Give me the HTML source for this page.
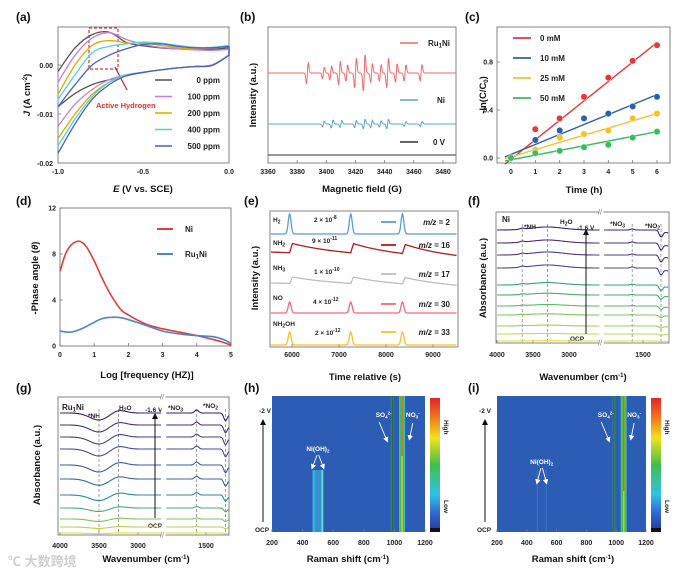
<!DOCTYPE html>
<html><head><meta charset="utf-8">
<style>
html,body{margin:0;padding:0;background:#fff;}
svg{display:block;font-family:"Liberation Sans","Noto Sans CJK SC",sans-serif;}
.t{font-size:7px;font-weight:bold;fill:#222;}
.at{font-size:9.5px;font-weight:bold;fill:#111;}
.pl{font-size:12px;font-weight:bold;fill:#111;}
.lg{font-size:8px;font-weight:bold;fill:#222;}
.sm{font-size:6.5px;font-weight:bold;fill:#222;}
.wt{font-size:6.5px;font-weight:bold;fill:#fff;}
.box{fill:none;stroke:#777;stroke-width:0.9;}
</style></head>
<body>
<svg id="fig" width="679" height="573" viewBox="0 0 679 573">
<defs>
<linearGradient id="cbar" x1="0" y1="0" x2="0" y2="1">
<stop offset="0" stop-color="#e0242a"/><stop offset="0.15" stop-color="#f07a1e"/><stop offset="0.3" stop-color="#f1e21b"/><stop offset="0.5" stop-color="#3ec04a"/><stop offset="0.72" stop-color="#2ec3e8"/><stop offset="0.85" stop-color="#2f6fd0"/><stop offset="0.97" stop-color="#2a3fa0"/><stop offset="0.97" stop-color="#111"/><stop offset="1" stop-color="#111"/>
</linearGradient>
<marker id="ah" markerWidth="6" markerHeight="6" refX="3" refY="3" orient="auto"><path d="M0,0 L6,3 L0,6 z" fill="#111"/></marker>
<marker id="aw" markerWidth="6" markerHeight="6" refX="3" refY="3" orient="auto"><path d="M0,0 L6,3 L0,6 z" fill="#fff"/></marker>
</defs>

<text class="pl" x="16" y="21">(a)</text>
<text class="pl" x="240" y="21">(b)</text>
<text class="pl" x="465" y="21">(c)</text>
<text class="pl" x="16" y="205">(d)</text>
<text class="pl" x="244" y="205">(e)</text>
<text class="pl" x="468" y="205">(f)</text>
<text class="pl" x="16" y="392">(g)</text>
<text class="pl" x="244" y="392">(h)</text>
<text class="pl" x="468" y="392">(i)</text>

<g id="pa">
<rect class="box" x="58" y="27" width="171" height="136"/>
<text class="t" x="53" y="68" text-anchor="end">0.00</text>
<text class="t" x="53" y="117" text-anchor="end">-0.01</text>
<text class="t" x="53" y="166" text-anchor="end">-0.02</text>
<text class="t" x="58" y="174" text-anchor="middle">-1.0</text>
<text class="t" x="143" y="174" text-anchor="middle">-0.5</text>
<text class="t" x="229" y="174" text-anchor="middle">0.0</text>
<text class="at" x="143" y="192" text-anchor="middle"><tspan font-style="italic">E</tspan> (V vs. SCE)</text>
<text class="at" transform="translate(30,95) rotate(-90)" text-anchor="middle"><tspan font-style="italic">J</tspan> (A cm<tspan dy="-3" font-size="6">-2</tspan><tspan dy="3">)</tspan></text>
<rect x="89" y="28" width="29" height="41" fill="none" stroke="#e03030" stroke-width="1.2" stroke-dasharray="3,2"/>
<line x1="115" y1="67" x2="127" y2="90" stroke="#c02020" stroke-width="1.2"/>
<text x="96" y="108" font-size="7.5" font-weight="bold" fill="#e03030">Active Hydrogen</text>
</g>

<g id="pb">
<rect class="box" x="268" y="27" width="188" height="136"/>
<text class="at" transform="translate(256,95) rotate(-90)" text-anchor="middle">Intensity (a.u.)</text>
<text class="at" x="362" y="192" text-anchor="middle">Magnetic field (G)</text>
</g>

<g id="pc">
<rect class="box" x="497" y="27" width="173" height="136"/>
<text class="at" transform="translate(486,95) rotate(-90)" text-anchor="middle">-ln(C/C<tspan font-size="6" dy="2">0</tspan><tspan dy="-2">)</tspan></text>
<text class="at" x="584" y="193" text-anchor="middle">Time (h)</text>
</g>

<g id="pd">
<rect class="box" x="60" y="208" width="171" height="138"/>
<text class="at" transform="translate(38,278) rotate(-90)" text-anchor="middle">-Phase angle (<tspan font-style="italic">θ</tspan>)</text>
<text class="at" x="147" y="378" text-anchor="middle">Log [frequency (HZ)]</text>
</g>

<g id="pe">
<rect class="box" x="270" y="211" width="188" height="136"/>
<text class="at" transform="translate(258,278) rotate(-90)" text-anchor="middle">Intensity (a.u.)</text>
<text class="at" x="365" y="380" text-anchor="middle">Time relative (s)</text>
</g>

<g id="pf">
<rect class="box" x="496" y="212" width="173" height="131"/>
<text class="at" transform="translate(486,278) rotate(-90)" text-anchor="middle">Absorbance (a.u.)</text>
<text class="at" x="583" y="380" text-anchor="middle">Wavenumber (cm<tspan dy="-3" font-size="6">-1</tspan><tspan dy="3">)</tspan></text>
<text class="lg" x="502" y="222" font-size="9">Ni</text>
<text class="sm" x="524" y="229">*NH</text>
<text class="sm" x="560" y="224">H<tspan font-size="5" dy="1.5">2</tspan><tspan dy="-1.5">O</tspan></text>
<text class="sm" x="577" y="230">-1.6 V</text>
<text class="sm" x="610" y="226">*NO<tspan font-size="5" dy="1.5">3</tspan></text>
<text class="sm" x="645" y="228">*NO<tspan font-size="5" dy="1.5">2</tspan></text>
<text class="sm" x="577" y="341" text-anchor="middle">OCP</text>
</g>

<g id="pg">
<rect class="box" x="58" y="397" width="171" height="138"/>
<text class="at" transform="translate(40,465) rotate(-90)" text-anchor="middle">Absorbance (a.u.)</text>
<text class="at" x="146" y="562" text-anchor="middle">Wavenumber (cm<tspan dy="-3" font-size="6">-1</tspan><tspan dy="3">)</tspan></text>
<text class="lg" x="62" y="410" font-size="9">Ru<tspan font-size="6" dy="1.5">1</tspan><tspan dy="-1.5">Ni</tspan></text>
<text class="sm" x="88" y="418">*NH</text>
<text class="sm" x="119" y="410">H<tspan font-size="5" dy="1.5">2</tspan><tspan dy="-1.5">O</tspan></text>
<text class="sm" x="145" y="412">-1.6 V</text>
<text class="sm" x="168" y="410">*NO<tspan font-size="5" dy="1.5">3</tspan></text>
<text class="sm" x="203" y="408">*NO<tspan font-size="5" dy="1.5">2</tspan></text>
<text class="sm" x="155" y="528" text-anchor="middle">OCP</text>
</g>

<g id="ph">
<text class="at" x="348" y="562" text-anchor="middle">Raman shift (cm<tspan dy="-3" font-size="6">-1</tspan><tspan dy="3">)</tspan></text>
<text class="sm" x="265" y="413" text-anchor="middle">-2 V</text>
<line x1="263" y1="522" x2="263" y2="422" stroke="#111" stroke-width="1" marker-end="url(#ah)"/>
<text class="sm" x="262" y="532" text-anchor="middle">OCP</text>
</g>

<g id="pi">
<text class="at" x="573" y="562" text-anchor="middle">Raman shift (cm<tspan dy="-3" font-size="6">-1</tspan><tspan dy="3">)</tspan></text>
<text class="sm" x="485" y="413" text-anchor="middle">-2 V</text>
<line x1="485" y1="522" x2="485" y2="422" stroke="#111" stroke-width="1" marker-end="url(#ah)"/>
<text class="sm" x="484" y="532" text-anchor="middle">OCP</text>
</g>

<text x="8" y="566" font-size="13" fill="#cfcfcf" font-weight="bold" font-family="'Liberation Sans','Noto Sans CJK SC',sans-serif">℃ 大数跨境</text>
</svg>

<script>
const cvX = [-1.0,-0.9,-0.8,-0.7,-0.6,-0.5,-0.4,-0.3,-0.2,-0.1,0.0];
const cvLabels = ['0 ppm','100 ppm','200 ppm','400 ppm','500 ppm'];
const cvUpper0 = [-1.3,3.5,6.2,6.7,4.6,3.9,3.5,3.3,3.2,3.2,3.5];
const cvLower0 = [-8.5,-5.8,-4.0,-3.0,-2.2,-1.5,-1.0,-0.6,-0.3,0.0,2.0];
const cvUpper1 = [-3.5,2.0,5.5,6.6,5.2,4.2,3.6,3.3,3.1,3.0,3.2];
const cvLower1 = [-12.5,-8.0,-5.0,-3.0,-2.0,-1.5,-1.0,-0.6,-0.3,0.0,2.0];
const cvUpper2 = [-6.0,0.0,4.0,5.0,4.5,4.5,4.0,3.5,3.3,3.5,3.8];
const cvLower2 = [-15.0,-10.0,-6.0,-3.5,-2.2,-1.5,-1.0,-0.6,-0.3,-0.1,2.0];
const cvUpper3 = [-7.0,-2.0,2.5,3.8,4.3,4.7,4.5,4.0,3.6,3.6,4.0];
const cvLower3 = [-16.5,-11.0,-6.5,-3.5,-2.0,-1.5,-1.0,-0.6,-0.3,-0.1,2.0];
const cvUpper4 = [-8.5,-4.0,0.0,2.0,3.3,4.2,4.3,3.8,3.5,3.5,3.8];
const cvLower4 = [-18.0,-12.0,-7.0,-4.0,-2.2,-1.5,-1.0,-0.6,-0.3,-0.1,2.0];
const cvYTicks = [0.00,-0.01,-0.02];

const eprXTicks = [3360,3380,3400,3420,3440,3460,3480];
const eprNames = ['Ru1Ni','Ni','0 V'];
const eprRuPos = [3387,3398,3403,3409,3414,3420,3426,3431,3437,3442,3448,3454,3465];
const eprRuAmp = [18,10,12,20,14,26,32,16,14,26,16,14,14];
const eprNiPos = [3398,3404,3410,3420,3426,3431,3437,3442,3454,3465];
const eprNiAmp = [5,7,6,6,8,6,5,8,4,4];
const eprBase = [73,124,155];

const kinTime = [0,1,2,3,4,5,6];
const kinLabels = ['0 mM','10 mM','25 mM','50 mM'];
const kin0 = [0.00,0.24,0.33,0.51,0.67,0.81,0.94];
const kin10 = [0.00,0.15,0.23,0.33,0.37,0.43,0.51];
const kin25 = [0.00,0.07,0.17,0.20,0.23,0.33,0.37];
const kin50 = [0.00,0.04,0.06,0.09,0.11,0.17,0.22];
const kinSlope = [0.162,0.083,0.060,0.039];
const kinIntercept = [-0.01,0.03,0.01,-0.015];
const kinYTicks = [0.0,0.4,0.8];

const bodeNiX = [0,0.15,0.3,0.5,0.65,0.8,1.0,1.2,1.4,1.6,1.8,2.0,2.3,2.6,3.0,3.5,4.0,4.5,4.8,5.0];
const bodeNiY = [6.5,7.9,8.7,9.1,9.0,8.5,7.4,6.1,4.9,3.9,3.1,2.7,2.2,1.8,1.5,1.2,0.9,0.55,0.3,0.05];
const bodeRuX = [0,0.3,0.6,0.9,1.2,1.5,1.8,2.1,2.5,3.0,3.5,4.0,4.5,4.8,5.0];
const bodeRuY = [1.3,1.2,1.45,1.9,2.35,2.5,2.45,2.2,1.8,1.3,1.05,0.9,0.8,0.55,0.2];
const bodeYTicks = [0,4,8,12];
const bodeXTicks = [0,1,2,3,4,5];

const msXTicks = [6000,7000,8000,9000];
const msPulses = [5950,7250,8350];
const msSpecies = ['H2','NH2','NH3','NO','NH2OH'];
const msScale = ['2 × 10-8','9 × 10-11','1 × 10-10','4 × 10-12','2 × 10-12'];
const msMz = [2,16,17,30,33];
const msBase = [234,252,283,313,345];
const msPeakH = [20,10,7,11,13];
const msDecay = [0,12,8,0,0];

const irColorsF = ['#3e2470','#4a2f80','#4d3a8c','#4a4898','#38a07c','#46ac72','#5fb868','#80c45c','#a6cf4e','#c9d943','#e6df3a'];
const irOffsetF = [230,243,255,268,285,295,306,315,326,334,341];
const irAmpF = [1,1,1,1,0.8,0.6,0.5,0.4,0.3,0.2,0.1];
const irFeatCF = [3300,3650,1650,1250];
const irFeatAF = [-3,-1,-1,6];
const irFeatWF = [220,30,25,25];

const irColorsG = ['#3e1f6a','#47307a','#4a3d88','#474c94','#3e5c98','#336b98','#2a8c90','#48ab76','#7ec45c','#b5d54a','#e5df38'];
const irOffsetG = [413,425,437,449,465,479,495,508,519,527,533];
const irAmpG = [1,1,1,1,1,0.9,0.8,0.5,0.35,0.2,0.1];
const irFeatCG = [3500,3250,1620,1250];
const irFeatAG = [7,-3,-3,7];
const irFeatWG = [120,90,25,22];

const ramanXTicks = [200,400,600,800,1000,1200];

const svg = document.getElementById('fig');
const NS = 'http://www.w3.org/2000/svg';
function lin(d0,d1,r0,r1){return v=>r0+(v-d0)*(r1-r0)/(d1-d0);}
function mk(tag,parent){const e=document.createElementNS(NS,tag);(parent||svg).appendChild(e);return e;}
function smooth(pts){let d='M'+pts[0][0].toFixed(1)+','+pts[0][1].toFixed(1);
 for(let i=0;i<pts.length-1;i++){const p0=pts[i-1]||pts[i],p1=pts[i],p2=pts[i+1],p3=pts[i+2]||p2;
 d+=' C'+(p1[0]+(p2[0]-p0[0])/6).toFixed(1)+','+(p1[1]+(p2[1]-p0[1])/6).toFixed(1)+' '+(p2[0]-(p3[0]-p1[0])/6).toFixed(1)+','+(p2[1]-(p3[1]-p1[1])/6).toFixed(1)+' '+p2[0].toFixed(1)+','+p2[1].toFixed(1);}
 return d;}
function txt(parent,x,y,s,cls,anchor){const t=mk('text',parent);t.setAttribute('x',x);t.setAttribute('y',y);t.setAttribute('class',cls);if(anchor)t.setAttribute('text-anchor',anchor);t.textContent=s;return t;}
function tick(parent,x1,y1,x2,y2){const l=mk('line',parent);l.setAttribute('x1',x1);l.setAttribute('y1',y1);l.setAttribute('x2',x2);l.setAttribute('y2',y2);l.setAttribute('stroke','#777');l.setAttribute('stroke-width','0.8');return l;}

{const g=document.getElementById('pa');
 const X=lin(-1,0,58,229), Y=lin(0,-0.02,65,163);
 const cols=['#555555','#c47fd8','#e0a800','#55d0d8','#4a5fc9'];
 const ups=[cvUpper0,cvUpper1,cvUpper2,cvUpper3,cvUpper4], lows=[cvLower0,cvLower1,cvLower2,cvLower3,cvLower4];
 for(let k=0;k<5;k++){
  const pu=cvX.map((x,i)=>[X(x),Y(ups[k][i]/1000)]);
  const pl=cvX.map((x,i)=>[X(x),Y(lows[k][i]/1000)]);
  const p=mk('path',g);p.setAttribute('d',smooth(pu)+' '+smooth(pl.slice().reverse()).replace('M','L'));
  p.setAttribute('fill','none');p.setAttribute('stroke',cols[k]);p.setAttribute('stroke-width','1.3');
  
  
  const ly=80+k*16.5;
  const l=mk('line',g);l.setAttribute('x1',155);l.setAttribute('x2',172);l.setAttribute('y1',ly);l.setAttribute('y2',ly);l.setAttribute('stroke',cols[k]);l.setAttribute('stroke-width','1.6');
  
  
  const t=txt(g,220,ly+3,cvLabels[k],'lg','end');
  
  
 }
 cvYTicks.forEach(v=>{tick(g,58,Y(v),61,Y(v));});
}

{const g=document.getElementById('pb');
 const X=lin(3360,3480,268,443);
 eprXTicks.forEach(v=>{const t=txt(g,X(v),174,String(v),'t','middle');
  
  tick(g,X(v),163,X(v),160);});
 const cols=['#ee6b6b','#5aa3dc','#333333'];
 const posA=[eprRuPos,eprNiPos,[]], ampA=[eprRuAmp,eprNiAmp,[]];
 for(let k=0;k<3;k++){
  const samples=[];
  for(let f=3360;f<=3489;f+=0.4){let y=eprBase[k];
   posA[k].forEach((p,i)=>{const u=(f-p)/0.6;y+=-ampA[k][i]*u*Math.exp(-u*u/2);});
   samples.push([X(f),y]);}
  const p=mk('path',g);p.setAttribute('d','M'+samples.map(s=>s[0].toFixed(1)+','+s[1].toFixed(1)).join(' L'));p.setAttribute('fill','none');p.setAttribute('stroke',cols[k]);p.setAttribute('stroke-width','1');
  
  
  const ly=[43,100,142][k];
  const l=mk('line',g);l.setAttribute('x1',400);l.setAttribute('x2',418);l.setAttribute('y1',ly);l.setAttribute('y2',ly);l.setAttribute('stroke',cols[k]);l.setAttribute('stroke-width','1.5');
  
  
 }
 const t1=txt(g,450,46,'','lg','end');t1.innerHTML='Ru<tspan font-size="6" dy="1.5">1</tspan><tspan dy="-1.5">Ni</tspan>';
 
 
 const t2=txt(g,445,103,'Ni','lg','end');
 
 
 const t3=txt(g,445,145,'0 V','lg','end');
 
 
}

{const g=document.getElementById('pc');
 const X=lin(0,6,511,657), Y=lin(0,0.8,158,62);
 const cols=['#e8363a','#2a62a8','#f5c12b','#3dba5d'];
 const sets=[kin0,kin10,kin25,kin50];
 kinTime.forEach(v=>{const t=txt(g,X(v),174,String(v),'t','middle');
  
  tick(g,X(v),163,X(v),160);});
 kinYTicks.forEach(v=>{const t=txt(g,493,Y(v)+2.5,v.toFixed(1),'t','end');
  
  tick(g,497,Y(v),500,Y(v));});
 for(let k=0;k<4;k++){
  const x0=-0.25, x1=6;
  const l=mk('line',g);l.setAttribute('x1',X(x0));l.setAttribute('x2',X(x1));
  l.setAttribute('y1',Y(kinIntercept[k]+kinSlope[k]*x0));l.setAttribute('y2',Y(kinIntercept[k]+kinSlope[k]*x1));
  l.setAttribute('stroke',cols[k]);l.setAttribute('stroke-width','1.4');
  
  
  kinTime.forEach((t,i)=>{const c=mk('circle',g);c.setAttribute('cx',X(t));c.setAttribute('cy',Y(sets[k][i]));c.setAttribute('r','3.2');c.setAttribute('fill',cols[k]);c.setAttribute('stroke','#fff');c.setAttribute('stroke-width','0.4');
   
   });
  const ly=38+k*20;
  const s=mk('line',g);s.setAttribute('x1',513);s.setAttribute('x2',531);s.setAttribute('y1',ly);s.setAttribute('y2',ly);s.setAttribute('stroke',cols[k]);s.setAttribute('stroke-width','1.8');
  
  
  const t=txt(g,540,ly+3,kinLabels[k],'lg');
  
  
 }
}

{const g=document.getElementById('pd');
 const X=lin(0,5,60,231), Y=lin(0,12,346,208);
 bodeXTicks.forEach(v=>{const t=txt(g,X(v),357,String(v),'t','middle');
  
  tick(g,X(v),346,X(v),343);});
 bodeYTicks.forEach(v=>{const t=txt(g,56,Y(v)+2.5,String(v),'t','end');
  
  tick(g,60,Y(v),63,Y(v));});
 const sets=[[bodeNiX,bodeNiY,'#e83a3a','ni'],[bodeRuX,bodeRuY,'#4a86c8','ru1ni']];
 sets.forEach((s,k)=>{const p=mk('path',g);p.setAttribute('d',smooth(s[0].map((x,i)=>[X(x),Y(s[1][i])])));
  p.setAttribute('fill','none');p.setAttribute('stroke',s[2]);p.setAttribute('stroke-width','1.6');
  
  
  const ly=[229,254][k];
  const l=mk('line',g);l.setAttribute('x1',157);l.setAttribute('x2',173);l.setAttribute('y1',ly);l.setAttribute('y2',ly);l.setAttribute('stroke',s[2]);l.setAttribute('stroke-width','2');
  
  });
 const a=txt(g,185,232,'Ni','lg');a.setAttribute('font-size','9');
 
 
 const b=txt(g,185,257,'','lg');b.setAttribute('font-size','9');b.innerHTML='Ru<tspan font-size="6" dy="1.5">1</tspan><tspan dy="-1.5">Ni</tspan>';
 
 
}

{const g=document.getElementById('pe');
 const X=lin(6000,9000,292,433);
 const cols=['#5b9bd5','#b01e1e','#bdbdbd','#ee6b7b','#f2c12e'];
 msXTicks.forEach(v=>{const t=txt(g,X(v),357,String(v),'t','middle');
  
  tick(g,X(v),347,X(v),344);});
 for(let k=0;k<5;k++){
  const pts=[];
  for(let tt=5550;tt<=9500;tt+=10){let y=msBase[k];
   msPulses.forEach(p=>{
    if(msDecay[k]===0){const u=(tt-p)/30;y-=msPeakH[k]*Math.exp(-u*u/2);}
    else{if(tt>=p){const dt=tt-p;y-=msPeakH[k]*Math.min(1,dt/60)*Math.exp(-dt/900);}}
   });
   if(msDecay[k]>0) y+=msDecay[k]*(tt-5550)/3950*0.6;
   pts.push([X(tt),y]);}
  const p=mk('path',g);p.setAttribute('d','M'+pts.map(s=>s[0].toFixed(1)+','+s[1].toFixed(1)).join(' L'));
  p.setAttribute('fill','none');p.setAttribute('stroke',cols[k]);p.setAttribute('stroke-width','1.3');
  
  
  const ly=[222,245,274,304,332][k];
  const l=mk('line',g);l.setAttribute('x1',381);l.setAttribute('x2',396);l.setAttribute('y1',ly);l.setAttribute('y2',ly);l.setAttribute('stroke',cols[k]);l.setAttribute('stroke-width','1.8');
  
  
  const m=txt(g,450,ly+3,'','lg','end');m.innerHTML='<tspan font-style="italic">m/z</tspan> = '+msMz[k];
  
  
  const sp=msScale[k].split('-');
  const sc=txt(g,[314,312,314,313,315][k],[222,243,274,304,335][k],'','sm');sc.innerHTML=sp[0]+'<tspan dy="-3" font-size="5">-'+sp[1]+'</tspan>';
  
  
 }
 const labs=['H<tspan font-size="5" dy="1.5">2</tspan>','NH<tspan font-size="5" dy="1.5">2</tspan>','NH<tspan font-size="5" dy="1.5">3</tspan>','NO','NH<tspan font-size="5" dy="1.5">2</tspan><tspan dy="-1.5">OH</tspan>'];
 [222,245,270,300,326].forEach((y,k)=>{const t=txt(g,273,y,'','sm');t.innerHTML=labs[k];
  
  });
}

function irPanel(id,cfg){
 const g=document.getElementById(id);
 const XL=w=>cfg.l0+(4000-w)*cfg.k, XR=w=>cfg.r0+(1500-w)*cfg.k;
 cfg.ticksL.forEach(v=>{const t=txt(g,XL(v),cfg.ty,String(v),'t','middle');
  
  tick(g,XL(v),cfg.bot,XL(v),cfg.bot-3);});
 const t=txt(g,XR(1500),cfg.ty,'1500','t','middle');
 
 
 tick(g,XR(1500),cfg.bot,XR(1500),cfg.bot-3);
 cfg.fc.forEach(c=>{const x=c>2000?XL(c):XR(c);const l=mk('line',g);l.setAttribute('x1',x);l.setAttribute('x2',x);l.setAttribute('y1',cfg.top+12);l.setAttribute('y2',cfg.bot);l.setAttribute('stroke','#888');l.setAttribute('stroke-dasharray','3,2');l.setAttribute('stroke-width','0.8');
  
  });
 cfg.off.forEach((o,i)=>{
  [[4000,cfg.lEnd,XL],[cfg.rStart,cfg.rEnd,XR]].forEach(seg=>{
   const pts=[];
   for(let w=seg[0];w>=seg[1];w-=8){let y=o;
    cfg.fc.forEach((c,j)=>{const u=(w-c)/cfg.fw[j];y+=cfg.amp[i]*cfg.fa[j]*Math.exp(-u*u/2);});
    if(seg[2]===XR && w<1300) y+=cfg.amp[i]*cfg.tail*(1300-w)/100;
    pts.push([seg[2](w),y]);}
   const p=mk('path',g);p.setAttribute('d','M'+pts.map(s=>s[0].toFixed(1)+','+s[1].toFixed(1)).join(' L'));
   p.setAttribute('fill','none');p.setAttribute('stroke',cfg.cols[i]);p.setAttribute('stroke-width','1.1');
   
   
  });
 });
 const bx=cfg.brk;
 const w=mk('rect',g);w.setAttribute('x',bx-1.5);w.setAttribute('y',cfg.top-3);w.setAttribute('width',4);w.setAttribute('height',cfg.bot-cfg.top+6);w.setAttribute('fill','#fff');
 
 
 [cfg.top,cfg.bot].forEach(y=>{const s=mk('text',g);s.setAttribute('x',bx-3);s.setAttribute('y',y+2.5);s.setAttribute('font-size','7');s.setAttribute('fill','#777');s.textContent='//';
  
  });
 const ar=mk('line',g);ar.setAttribute('x1',cfg.ax);ar.setAttribute('x2',cfg.ax);ar.setAttribute('y1',cfg.ay1);ar.setAttribute('y2',cfg.ay0);ar.setAttribute('stroke','#111');ar.setAttribute('stroke-width','1');ar.setAttribute('marker-end','url(#ah)');
 
 
}
irPanel('pf',{l0:497,r0:643,k:0.072,lEnd:2570,rStart:2040,rEnd:1150,brk:601,top:212,bot:343,ty:357,ticksL:[4000,3500,3000],
 off:irOffsetF,amp:irAmpF,fc:irFeatCF,fa:irFeatAF,fw:irFeatWF,cols:irColorsF,tail:2,ax:586,ay0:232,ay1:334});
irPanel('pg',{l0:60,r0:206,k:0.078,lEnd:2700,rStart:2010,rEnd:1205,brk:163,top:397,bot:535,ty:548,ticksL:[4000,3500,3000],
 off:irOffsetG,amp:irAmpG,fc:irFeatCG,fa:irFeatAG,fw:irFeatWG,cols:irColorsG,tail:1.5,ax:155,ay0:416,ay1:518});

const ramanSulfate = 985;
const ramanNitrateLo = 1030, ramanNitrateHi = 1070;
const ramanNiOHh = [465,535];
const ramanNiOHi = [470,530];
function heat(id,x0,x1,cbx,nioh,strong){
 const g=document.getElementById(id);
 const X=lin(200,1200,x0,x1), top=396, bot=532;
 const bg=mk('rect',g);bg.setAttribute('x',x0);bg.setAttribute('y',top);bg.setAttribute('width',x1-x0);bg.setAttribute('height',bot-top);bg.setAttribute('fill','#2d5cb5');
 
 
 function band(a,b,y0,col,name){const r=mk('rect',g);r.setAttribute('x',X(a));r.setAttribute('width',Math.max(0.8,X(b)-X(a)));r.setAttribute('y',y0);r.setAttribute('height',bot-y0);r.setAttribute('fill',col);
  
  return r;}
 if(strong){band(nioh[0],nioh[1],470,'#2ab8e0','nioh-band');band(nioh[0]+15,nioh[1]-15,470,'#3b8fd0','nioh-band-core');band(nioh[1]-12,nioh[1],470,'#5fd8c0','nioh-band-edge');}
 else{band(nioh[0]-3,nioh[0]+3,470,'#3a78c8','nioh-band');band(nioh[1]-3,nioh[1]+3,470,'#3a78c8','nioh-band');}
 band(ramanSulfate-8,ramanSulfate+8,top,'#3fae5a','sulfate-band');
 band(ramanSulfate-3,ramanSulfate+3,top,'#1d3a2a','sulfate-band-core');
 band(ramanNitrateLo,ramanNitrateHi,top,'#2ec0c8','nitrate-band');
 band(ramanNitrateLo+8,ramanNitrateHi-8,top,'#45c040','nitrate-band-inner');
 band(ramanNitrateLo+15,ramanNitrateHi-15,top,'#e0c020','nitrate-band-hot');
 const hr=mk('rect',g);hr.setAttribute('x',X(ramanNitrateLo+16));hr.setAttribute('width',X(ramanNitrateHi-16)-X(ramanNitrateLo+16));hr.setAttribute('y',top);hr.setAttribute('height',strong?60:95);hr.setAttribute('fill','#d85a22');
 
 
 ramanXTicks.forEach(v=>{const t=txt(g,X(v),545,String(v),'t','middle');
  
  tick(g,X(v),bot,X(v),bot-3);});
 const cb=mk('rect',g);cb.setAttribute('x',cbx);cb.setAttribute('y',398);cb.setAttribute('width',10);cb.setAttribute('height',134);cb.setAttribute('fill','url(#cbar)');
 
 
 const hi=txt(g,0,0,'High','sm');hi.setAttribute('transform','translate('+(cbx+14)+',420) rotate(90)');
 
 
 const lo=txt(g,0,0,'Low','sm');lo.setAttribute('transform','translate('+(cbx+14)+',500) rotate(90)');
 
 
 const s=txt(g,X(930),417,'','wt','middle');s.innerHTML='SO<tspan font-size="4.5" dy="1.5">4</tspan><tspan font-size="4.5" dy="-4">2-</tspan>';
 
 
 const n=txt(g,X(1120),417,'','wt','middle');n.innerHTML='NO<tspan font-size="4.5" dy="1.5">3</tspan><tspan font-size="4.5" dy="-4">-</tspan>';
 
 
 const o=txt(g,X(500),strong?451:464,'','wt','middle');o.innerHTML='Ni(OH)<tspan font-size="4.5" dy="1.5">2</tspan>';
 
 
 const arrows=[[X(900),422,X(950),440],[X(1120),423,X(1100),438],[X(495),(strong?455:468),X(nioh[0]),(strong?467:482)],[X(505),(strong?455:468),X(nioh[1]),(strong?467:482)]];
 arrows.forEach(a=>{const l=mk('line',g);l.setAttribute('x1',a[0]);l.setAttribute('y1',a[1]);l.setAttribute('x2',a[2]);l.setAttribute('y2',a[3]);l.setAttribute('stroke','#fff');l.setAttribute('stroke-width','0.9');l.setAttribute('marker-end','url(#aw)');
  
  });
}
heat('ph',272,425,430,ramanNiOHh,true);
heat('pi',497,646,651,ramanNiOHi,false);
</script>
</body></html>
